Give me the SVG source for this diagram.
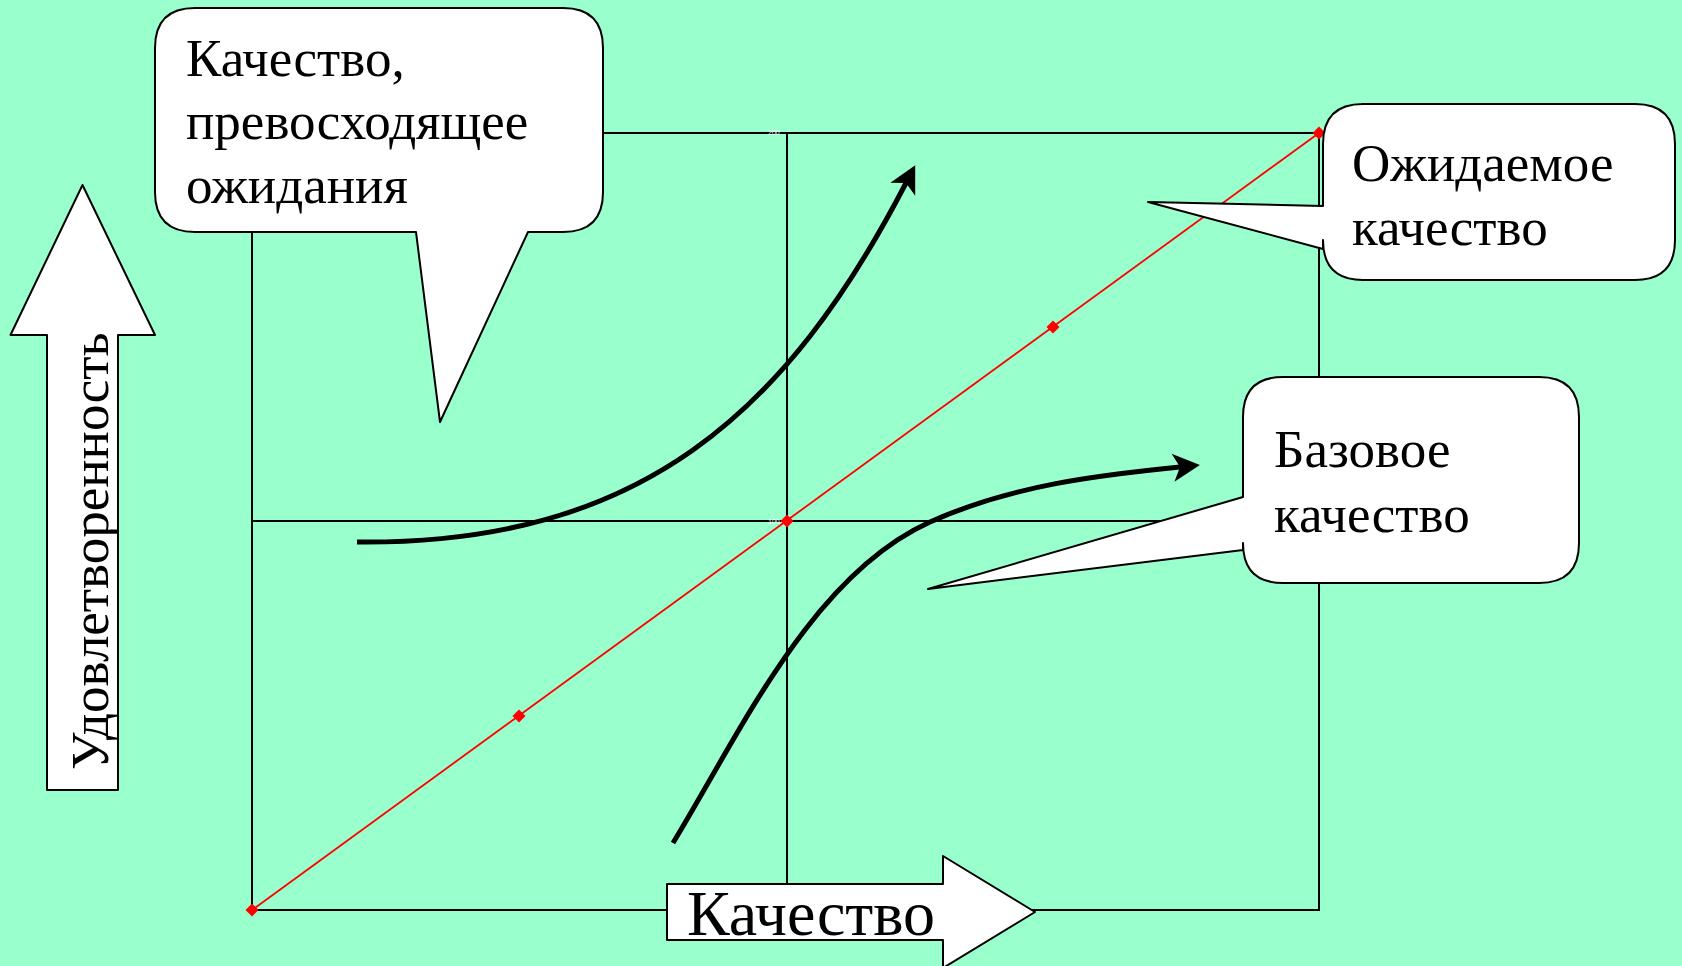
<svg xmlns="http://www.w3.org/2000/svg" width="1682" height="966" viewBox="0 0 1682 966">
<style>
.grid{stroke:#000;stroke-width:2;fill:none}
.diag{stroke:#FF0000;stroke-width:1.8;fill:none}
.dot{fill:#FF0000}
.curve{stroke:#000;stroke-width:5;fill:none;marker-end:url(#head)}
.box{fill:#fff;stroke:#000;stroke-width:2;stroke-linejoin:round}
.t{font-family:"Liberation Serif","Times New Roman",serif;fill:#000}
.tick{font-family:"Liberation Sans",Arial,sans-serif;font-size:7px;fill:#fff}
</style>
<defs>
<marker id="head" markerUnits="userSpaceOnUse" markerWidth="30" markerHeight="30" refX="7" refY="0" orient="auto" overflow="visible">
<path d="M27,0 L0,-14 L7,0 L0,14 Z" fill="#000"/>
</marker>
</defs>
<rect width="1682" height="966" fill="#99FFCC"/>
<g id="grid">
<rect class="grid" x="252" y="133" width="1067" height="777"/>
<line class="grid" x1="787" y1="133" x2="787" y2="910"/>
<line class="grid" x1="252" y1="521" x2="1319" y2="521"/>
<text class="tick" x="768" y="135">200</text>
<text class="tick" x="768" y="524">100</text>
</g>
<g id="diagonal">
<line class="diag" x1="252" y1="910" x2="1319" y2="133"/>
<path class="dot" d="M252,903.5 L258.5,910 L252,916.5 L245.5,910 Z"/>
<path class="dot" d="M519,709.5 L525.5,716 L519,722.5 L512.5,716 Z"/>
<path class="dot" d="M787,514.5 L793.5,521 L787,527.5 L780.5,521 Z"/>
<path class="dot" d="M1053,320.5 L1059.5,327 L1053,333.5 L1046.5,327 Z"/>
<path class="dot" d="M1319,126.5 L1325.5,133 L1319,139.5 L1312.5,133 Z"/>
</g>
<g id="connectors">
<path class="curve" d="M357,542 C640,545 786,414 906,183"/>
<path class="curve" d="M673,843 C740.6,732 811.7,575.3 930,522 C1011.9,485.1 1100,475 1180,467"/>
</g>
<g id="y-axis">
<path class="box" d="M47,790 L47,335 L10.5,335 L82.5,185 L155,335 L118,335 L118,790 Z"/>
<text class="t" font-size="53" transform="translate(108,770) rotate(-90)">Удовлетворенность</text>
</g>
<g id="x-axis">
<path class="box" d="M667,884 L943,884 L943,856 L1035,912 L943,968 L943,940 L667,940 Z"/>
<text class="t" font-size="64" x="687" y="935">Качество</text>
</g>
<g id="callout-exceeding">
<path class="box" d="M195,8 L563,8 Q603,8 603,48 L603,192 Q603,232 563,232 L528,232 L440,422 L416,232 L195,232 Q155,232 155,192 L155,48 Q155,8 195,8 Z"/>
<text class="t" font-size="53" x="186"><tspan x="186" y="76">Качество,</tspan><tspan x="186" y="139">превосходящее</tspan><tspan x="186" y="203">ожидания</tspan></text>
</g>
<g id="callout-expected">
<path class="box" d="M1362,104 L1635,104 Q1675,104 1675,144 L1675,240 Q1675,280 1635,280 L1363,280 Q1323,280 1323,240 L1323,249 L1148,202 L1323,206 L1323,144 Q1323,104 1363,104 Z"/>
<text class="t" font-size="53"><tspan x="1352" y="181">Ожидаемое</tspan><tspan x="1352" y="245">качество</tspan></text>
</g>
<g id="callout-basic">
<path class="box" d="M1283,377 L1539,377 Q1579,377 1579,417 L1579,543 Q1579,583 1539,583 L1283,583 Q1243,583 1243,543 L1243,550 L928,589 L1243,497 L1243,417 Q1243,377 1283,377 Z"/>
<text class="t" font-size="53"><tspan x="1274" y="467">Базовое</tspan><tspan x="1274" y="532">качество</tspan></text>
</g>
</svg>
